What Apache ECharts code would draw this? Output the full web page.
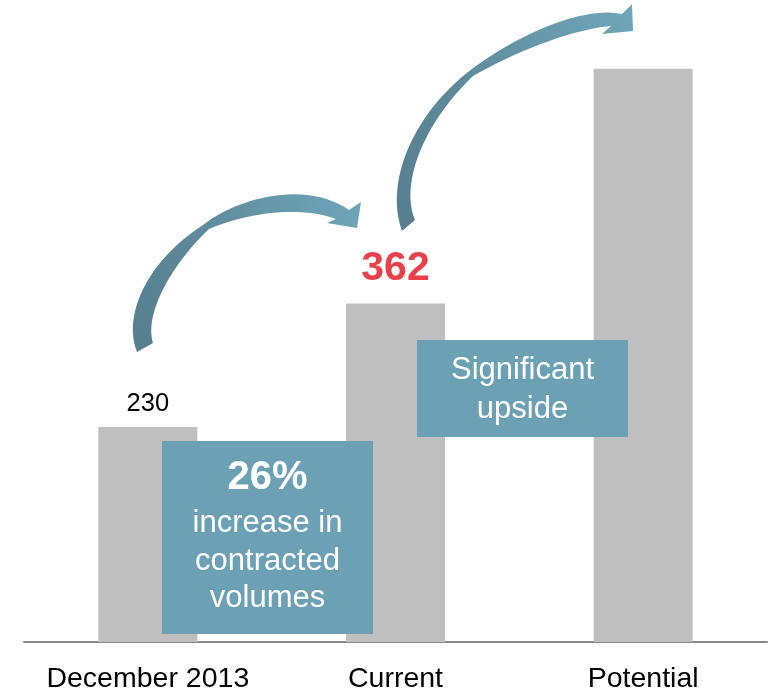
<!DOCTYPE html>
<html>
<head>
<meta charset="utf-8">
<script src="https://cdn.jsdelivr.net/npm/echarts@6/dist/echarts.min.js"></script>
<style>
html,body{margin:0;padding:0;background:#fff;}
#main{width:769px;height:694px;}
</style>
</head>
<body>
<div id="main"></div>
<script>
var categories = ['December 2013', 'Current', 'Potential'];
var values = [230, 362, 613];
var valueLabels = ['230', '362', ''];
var box1Lines = ['26%', 'increase in', 'contracted', 'volumes'];
var box2Lines = ['Significant', 'upside'];

var FONT = '"Liberation Sans", Arial, sans-serif';
var BAR = '#bfbfbf';
var BOX = '#6ba0b5';

function bez(p0, p1, p2, p3, n) {
  var pts = [];
  for (var i = 0; i <= n; i++) {
    var t = i / n, u = 1 - t;
    pts.push([
      u*u*u*p0[0] + 3*u*u*t*p1[0] + 3*u*t*t*p2[0] + t*t*t*p3[0],
      u*u*u*p0[1] + 3*u*u*t*p1[1] + 3*u*t*t*p2[1] + t*t*t*p3[1]
    ]);
  }
  return pts;
}
function arrowPoints(a) {
  var outer = bez.apply(null, a.outerA.concat([24])).concat(bez.apply(null, a.outerB.concat([24])).slice(1));
  var inner = bez.apply(null, a.innerA.concat([24])).concat(bez.apply(null, a.innerB.concat([24])).slice(1));
  return outer.concat(a.head).concat(inner.reverse());
}
var arrow1 = {
  outerA: [[137,352],[122,315],[148,260],[203,225]],
  outerB: [[203,225],[240,196],[308,181],[349,210]],
  head: [[361,202],[357,228],[327,223]],
  innerA: [[153,343],[144,315],[170,266],[209,229]],
  innerB: [[209,229],[248,212],[302,206],[336,219]]
};
var arrow2 = {
  outerA: [[402,231],[385,185],[410,118],[468,72]],
  outerB: [[468,72],[520,32],[585,6],[622,14]],
  head: [[632,4],[633,31],[602,34]],
  innerA: [[415,220],[400,185],[422,125],[473,76]],
  innerB: [[473,76],[522,48],[576,29],[611,26]]
};
function arrowEl(a) {
  return {
    type: 'polygon', z: 50,
    shape: { points: arrowPoints(a) },
    style: {
      fill: new echarts.graphic.LinearGradient(0, 1, 1, 0, [
        { offset: 0, color: '#557e8f' },
        { offset: 0.45, color: '#5e8a9c' },
        { offset: 1, color: '#70a6bb' }
      ])
    }
  };
}
function textEl(str, x, y, size, bold) {
  return {
    type: 'text', z: 60, x: x, y: y,
    style: {
      text: str, fill: '#fff', font: (bold ? 'bold ' : '') + size + 'px ' + FONT,
      textAlign: 'center', textVerticalAlign: 'middle'
    }
  };
}

var chart = echarts.init(document.getElementById('main'));
var graphics = [
  arrowEl(arrow1), arrowEl(arrow2),
  { type: 'rect', z: 40, shape: { x: 162, y: 441, width: 211, height: 193 }, style: { fill: BOX } },
  { type: 'rect', z: 40, shape: { x: 417, y: 340, width: 211, height: 97 }, style: { fill: BOX } },
  textEl(box1Lines[0], 267.5, 478, 40, true),
  textEl(box1Lines[1], 267.5, 523, 31, false),
  textEl(box1Lines[2], 267.5, 561, 31, false),
  textEl(box1Lines[3], 267.5, 598, 31, false),
  textEl(box2Lines[0], 522.5, 370, 31, false),
  textEl(box2Lines[1], 522.5, 409, 31, false)
];

chart.setOption({
  animation: false,
  grid: { left: 24, right: 2, top: 6, bottom: 51, containLabel: false },
  xAxis: {
    type: 'category', data: categories,
    axisLine: { lineStyle: { color: '#888', width: 2 } },
    axisTick: { show: false },
    axisLabel: { color: '#000', fontSize: 28.5, fontFamily: FONT, margin: 23, interval: 0, hideOverlap: false }
  },
  yAxis: { type: 'value', min: 0, max: 680, show: false, splitLine: { show: false } },
  series: [{
    type: 'bar', barWidth: 99,
    data: values.map(function (v, i) {
      var lab = { show: !!valueLabels[i], position: 'top', formatter: valueLabels[i], fontFamily: FONT };
      if (i === 0) { lab.fontSize = 25.5; lab.color = '#000'; lab.distance = 10; }
      if (i === 1) { lab.fontSize = 41; lab.color = '#e8414b'; lab.fontWeight = 'bold'; lab.distance = 14; }
      return { value: v, label: lab };
    }),
    itemStyle: { color: BAR }
  }],
  graphic: graphics
});
</script>
</body>
</html>
